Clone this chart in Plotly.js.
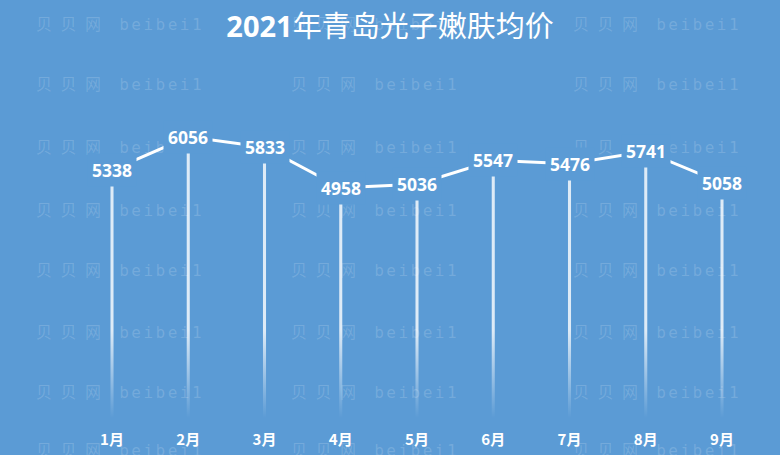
<!DOCTYPE html>
<html>
<head>
<meta charset="utf-8">
<script src="https://cdn.plot.ly/plotly-3.0.1.min.js"></script>
<style>html,body{margin:0;padding:0;background:#5B9BD5;}#chart{width:780px;height:455px;}</style>
</head>
<body>
<div id="chart"></div>
<script>
// ---- data ----
const months = ['1月','2月','3月','4月','5月','6月','7月','8月','9月'];
const prices = [5338, 6056, 5833, 4958, 5036, 5547, 5476, 5741, 5058];
const titleText = '<b>2021</b>年青岛光子嫩肤均价';
const watermarkText = '<span style="letter-spacing:8.5px">贝贝网</span> <span style="letter-spacing:2.5px">beibei1</span>';

// ---- style / layout constants ----
const BG = '#5B9BD5';
const W = 780, H = 455;
const M = {l: 0, r: 0, t: 93, b: 37};
const xs = months.map((m, i) => i);

const traces = [];
// stems with vertical gradient fading toward the bottom
prices.forEach((v, i) => {
  traces.push({
    type: 'scatter', mode: 'none',
    x: [i - 0.02, i + 0.02], y: [v, v],
    fill: 'tozeroy',
    fillgradient: {type: 'vertical', start: 0, stop: 1900,
      colorscale: [[0, 'rgba(255,255,255,0)'], [1, 'rgba(255,255,255,0.8)']]},
    hoverinfo: 'skip', showlegend: false
  });
});
// connecting line
traces.push({
  type: 'scatter', mode: 'lines', x: xs, y: prices,
  line: {color: '#ffffff', width: 3},
  hoverinfo: 'skip', showlegend: false
});

// watermark grid (decoration)
const wmCols = [35, 290, 572];
const wmRows = [25, 85, 147, 210, 270, 332, 392, 450];
const plotH = H - M.t - M.b;
const annotations = [];
wmRows.forEach(py => {
  wmCols.forEach(px => {
    annotations.push({
      xref: 'paper', yref: 'paper',
      x: px / W, y: (H - M.b - py) / plotH,
      xanchor: 'left', yanchor: 'middle',
      text: watermarkText, showarrow: false,
      font: {family: 'DejaVu Sans Mono, Noto Sans CJK SC', size: 16, color: 'rgba(255,255,255,0.16)'},
      borderpad: 0
    });
  });
});
// value labels
prices.forEach((v, i) => {
  annotations.push({
    x: i, y: v, xref: 'x', yref: 'y',
    text: String(v), showarrow: false,
    xanchor: 'center', yanchor: 'middle',
    bgcolor: BG, borderpad: 4,
    font: {family: 'Open Sans, Noto Sans CJK SC', size: 17.5, color: '#ffffff', weight: 'bold'}
  });
});

const pxPerUnit = 76.25;
const x0 = 112;
const layout = {
  width: W, height: H,
  margin: M,
  paper_bgcolor: BG, plot_bgcolor: BG,
  title: {
    text: titleText,
    x: 0.5, xanchor: 'center', xref: 'container',
    y: 1 - 27 / H, yanchor: 'middle', yref: 'container',
    font: {family: 'Open Sans, Noto Sans CJK SC', size: 29, color: '#ffffff'}
  },
  xaxis: {
    range: [-x0 / pxPerUnit, (W - x0) / pxPerUnit],
    tickvals: xs, ticktext: months,
    showgrid: false, zeroline: false, showline: false, ticks: '',
    ticklabelstandoff: 11,
    tickfont: {family: 'Noto Sans CJK SC', size: 15, color: '#ffffff', weight: 'bold'},
    fixedrange: true
  },
  yaxis: {
    range: [0, 7000],
    visible: false, showgrid: false, zeroline: false, fixedrange: true
  },
  annotations: annotations,
  showlegend: false
};

Plotly.newPlot('chart', traces, layout, {staticPlot: true, displayModeBar: false});
</script>
</body>
</html>
